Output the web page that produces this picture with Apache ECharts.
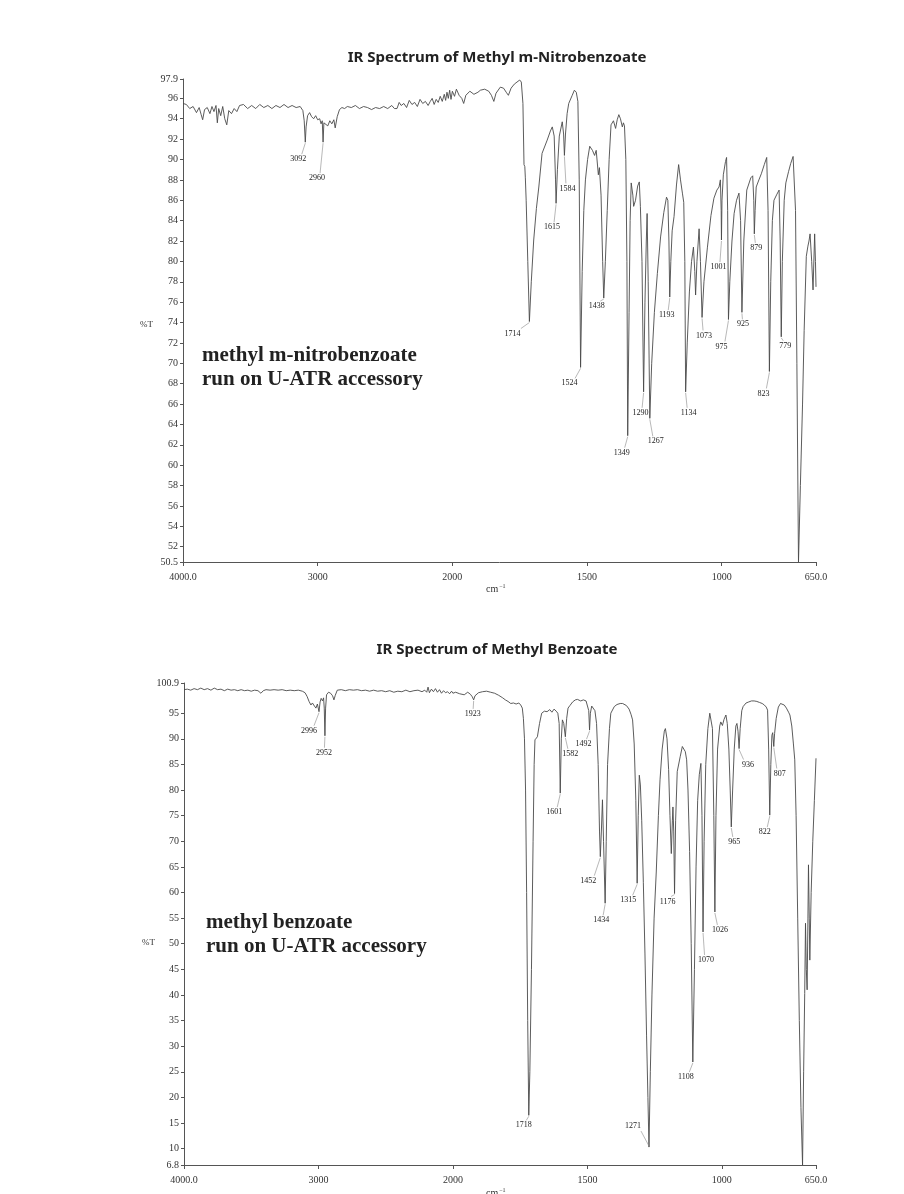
<!DOCTYPE html>
<html>
<head>
<meta charset="utf-8">
<title>IR Spectra</title>
<style>
html,body{margin:0;padding:0;background:#fff;}
#main{width:904px;height:1194px;}
</style>
<script src="https://cdn.jsdelivr.net/npm/echarts@6/dist/echarts.min.js"></script>
</head>
<body>
<div id="main"></div>
<script>
// methyl m-nitrobenzoate: [wavenumber cm-1, %T]
var nitroSpectrum = [
  [4000,95.5],[3975,95.4],[3950,95.0],[3925,95.2],[3900,94.6],[3880,95.1],[3865,94.4],[3854,93.9],[3840,94.9],[3820,95.1],
  [3800,94.5],[3785,95.2],[3770,94.7],[3755,95.3],[3745,93.6],[3735,95.0],[3720,94.3],[3705,95.2],[3690,94.0],[3675,93.4],
  [3660,94.8],[3640,94.5],[3620,95.0],[3600,94.7],[3580,95.3],[3551,95.4],[3520,95.0],[3490,95.3],[3460,95.0],[3430,95.4],
  [3400,95.1],[3370,95.3],[3340,95.0],[3310,95.3],[3280,95.1],[3250,95.4],[3220,95.1],[3190,95.3],[3160,95.1],[3130,95.2],
  [3110,94.8],[3100,93.8],[3092,91.7],[3086,93.2],[3075,94.3],[3060,94.6],[3045,94.2],[3030,94.0],[3015,94.3],[3000,93.9],
  [2985,94.0],[2975,93.5],[2966,93.8],[2960,91.7],[2954,93.6],[2940,93.7],[2925,93.3],[2910,93.8],[2895,93.5],[2880,93.9],
  [2870,93.1],[2855,94.2],[2838,94.9],[2820,95.1],[2800,95.0],[2780,95.2],[2750,95.1],[2720,95.3],[2690,95.0],[2659,95.2],
  [2630,95.1],[2600,94.9],[2570,95.1],[2540,95.0],[2510,95.2],[2480,95.0],[2450,95.3],[2430,95.0],[2411,95.0],[2395,95.6],
  [2380,95.3],[2360,95.5],[2340,95.1],[2320,95.8],[2300,95.4],[2280,95.6],[2260,95.2],[2240,95.9],[2220,95.5],[2200,95.7],
  [2180,95.3],[2164,95.7],[2150,96.0],[2135,95.4],[2120,95.9],[2105,95.6],[2090,96.2],[2075,95.7],[2060,96.4],[2050,95.8],
  [2040,96.6],[2030,96.0],[2020,96.8],[2010,95.9],[2000,96.7],[1992,96.2],[1985,96.9],[1975,96.3],[1965,96.0],[1958,95.5],
  [1950,96.3],[1935,96.7],[1920,96.4],[1905,96.6],[1896,96.8],[1880,96.9],[1865,96.7],[1855,96.3],[1846,95.7],[1838,96.5],
  [1822,97.1],[1810,97.0],[1800,96.6],[1792,96.3],[1782,97.0],[1770,97.4],[1760,97.6],[1750,97.8],[1744,97.6],[1738,95.5],
  [1734,89.5],[1731,89.3],[1729,88.2],[1726,86.0],[1720,80.0],[1714,74.1],[1707,78.0],[1698,82.1],[1688,85.2],[1679,87.3],
  [1667,90.6],[1648,91.9],[1636,92.8],[1629,93.2],[1622,92.3],[1617,88.0],[1615,85.7],[1610,89.0],[1603,92.3],[1592,93.7],
  [1587,92.5],[1584,90.4],[1580,92.5],[1574,94.5],[1568,95.5],[1555,96.3],[1547,96.8],[1540,96.6],[1534,95.7],[1529,88.0],
  [1524,69.6],[1518,79.0],[1512,85.0],[1506,88.0],[1498,90.0],[1490,91.3],[1480,90.9],[1472,90.4],[1466,90.9],[1462,90.8],
  [1458,88.5],[1454,89.2],[1448,86.5],[1442,80.0],[1438,76.4],[1432,80.0],[1425,85.0],[1418,90.0],[1411,93.4],[1402,93.8],
  [1394,93.05],[1388,93.9],[1382,94.4],[1376,94.0],[1369,93.2],[1365,93.6],[1361,93.3],[1356,90.0],[1352,80.0],[1349,62.9],
  [1344,75.0],[1340,84.0],[1336,87.7],[1330,86.5],[1327,85.4],[1320,86.0],[1312,87.4],[1306,87.8],[1302,85.4],[1296,80.0],
  [1290,67.2],[1285,76.0],[1280,82.0],[1277,84.7],[1273,78.0],[1267,64.6],[1260,70.0],[1250,75.0],[1239,78.8],[1227,82.4],
  [1215,84.8],[1205,86.3],[1200,86.0],[1196,82.0],[1193,76.5],[1189,80.0],[1184,83.0],[1177,84.4],[1168,87.5],[1160,89.5],
  [1153,88.0],[1146,86.7],[1141,85.8],[1137,80.0],[1134,67.2],[1128,72.0],[1120,77.0],[1112,80.0],[1105,81.4],[1100,79.0],
  [1097,76.7],[1092,80.0],[1084,83.2],[1079,80.0],[1073,74.5],[1066,78.0],[1053,81.4],[1040,84.5],[1029,86.2],[1018,87.0],
  [1010,87.3],[1005,88.0],[1002,85.0],[1001,82.1],[999,86.0],[994,88.5],[986,89.8],[982,90.2],[978,85.0],[975,74.3],
  [970,78.0],[962,82.0],[954,84.7],[945,86.0],[936,86.7],[930,84.0],[925,75.0],[918,82.0],[907,87.0],[892,88.2],
  [885,88.4],[881,86.0],[879,82.7],[876,85.0],[872,87.3],[862,88.0],[853,88.6],[842,89.5],[833,90.2],[828,85.0],
  [823,69.2],[818,78.0],[812,84.0],[806,86.0],[795,86.6],[787,87.0],[783,82.0],[779,72.6],[775,80.0],[768,86.0],
  [762,87.7],[752,88.8],[744,89.6],[735,90.3],[731,90.4],[726,85.0],[721,70.0],[715,50.5],[708,58.0],[700,66.0],
  [694,73.2],[686,80.5],[680,81.5],[676,82.0],[672,82.7],[666,80.0],[661,77.2],[655,82.7],[652,80.0],[650,77.5]
];

// methyl benzoate: [wavenumber cm-1, %T]
var benzoateSpectrum = [
  [4000,99.6],[3975,99.7],[3950,99.5],[3925,99.8],[3900,99.6],[3875,99.9],[3850,99.6],[3825,99.8],[3800,99.5],[3775,99.9],
  [3750,99.6],[3725,99.7],[3700,99.4],[3675,99.7],[3650,99.5],[3625,99.6],[3600,99.4],[3575,99.6],[3550,99.4],[3525,99.5],
  [3500,99.3],[3475,99.5],[3450,99.4],[3428,98.9],[3410,99.4],[3390,99.6],[3360,99.5],[3330,99.6],[3300,99.5],[3270,99.6],
  [3240,99.4],[3210,99.5],[3180,99.4],[3150,99.5],[3120,99.3],[3100,99.0],[3085,98.3],[3070,97.3],[3056,96.6],[3045,97.0],
  [3030,96.4],[3019,96.0],[3008,96.8],[2996,95.3],[2988,97.2],[2980,97.9],[2970,97.4],[2962,98.0],[2957,96.0],[2952,90.6],
  [2947,96.0],[2940,98.6],[2925,99.1],[2910,98.9],[2895,98.4],[2885,97.6],[2875,98.5],[2860,99.5],[2830,99.6],[2800,99.4],
  [2770,99.6],[2740,99.5],[2710,99.6],[2680,99.4],[2650,99.5],[2620,99.3],[2590,99.5],[2560,99.3],[2530,99.4],[2500,99.2],
  [2470,99.4],[2440,99.1],[2410,99.3],[2380,99.2],[2350,99.5],[2320,99.2],[2290,99.4],[2260,99.5],[2230,99.2],[2210,99.5],
  [2195,99.1],[2185,100.1],[2175,99.0],[2160,99.7],[2145,99.2],[2130,99.8],[2115,99.1],[2100,99.6],[2085,98.9],[2070,99.4],
  [2055,99.0],[2040,99.2],[2025,98.8],[2010,99.3],[2000,98.9],[1990,99.1],[1975,98.8],[1958,98.6],[1945,99.1],[1935,98.7],
  [1928,98.2],[1923,97.6],[1918,98.4],[1905,99.0],[1890,99.2],[1875,99.3],[1860,99.1],[1845,98.9],[1830,98.5],[1815,98.0],
  [1805,97.6],[1795,97.3],[1785,96.9],[1775,97.0],[1765,96.8],[1755,97.0],[1748,96.6],[1742,96.0],[1738,94.0],[1734,90.0],
  [1730,80.0],[1726,60.0],[1722,35.0],[1718,16.5],[1714,25.0],[1708,45.0],[1702,70.0],[1698,85.0],[1695,89.8],[1686,90.4],
  [1678,93.0],[1670,95.0],[1660,95.4],[1650,95.3],[1640,95.7],[1632,95.2],[1624,95.8],[1616,95.4],[1610,95.0],[1605,93.0],
  [1601,79.4],[1597,90.0],[1593,93.7],[1588,93.0],[1582,90.4],[1577,94.0],[1572,96.0],[1565,96.5],[1555,97.2],[1545,97.6],
  [1537,97.7],[1525,97.4],[1515,97.6],[1505,97.4],[1500,97.2],[1495,95.5],[1492,91.7],[1489,95.0],[1484,96.4],[1478,96.5],
  [1472,95.5],[1466,93.0],[1460,85.0],[1455,72.0],[1452,67.0],[1448,72.0],[1444,78.1],[1440,70.0],[1434,57.9],[1430,70.0],
  [1425,85.0],[1418,92.0],[1413,95.0],[1400,96.3],[1390,96.7],[1378,96.9],[1369,96.9],[1355,96.5],[1345,95.8],[1338,94.8],
  [1332,93.7],[1326,89.0],[1320,78.0],[1315,61.8],[1311,75.0],[1307,82.9],[1303,81.0],[1298,74.0],[1292,62.0],[1286,48.0],
  [1280,32.0],[1275,20.0],[1271,10.3],[1266,25.0],[1260,40.0],[1252,55.0],[1244,64.0],[1236,75.0],[1230,82.0],[1222,88.0],
  [1214,91.5],[1210,92.0],[1204,90.0],[1198,84.0],[1193,75.0],[1188,67.6],[1184,74.0],[1182,76.7],[1179,72.0],[1176,59.8],
  [1172,74.0],[1166,83.6],[1155,86.5],[1147,88.5],[1141,88.8],[1136,87.5],[1131,85.9],[1126,80.0],[1120,68.0],[1114,50.0],
  [1108,26.9],[1102,45.0],[1096,65.0],[1090,78.0],[1084,83.0],[1078,85.2],[1074,75.0],[1070,52.3],[1066,70.0],[1060,85.0],
  [1052,92.0],[1045,95.0],[1040,95.3],[1035,92.0],[1030,75.0],[1026,56.2],[1022,75.0],[1016,88.0],[1008,92.5],[1004,93.3],
  [998,92.6],[992,93.8],[985,94.65],[980,93.0],[974,88.0],[969,80.0],[965,72.8],[960,80.0],[954,88.0],[948,92.5],
  [944,93.0],[940,91.5],[936,88.1],[932,92.0],[926,95.5],[921,96.3],[910,97.0],[900,97.2],[890,97.4],[880,97.4],
  [870,97.3],[860,97.1],[850,96.9],[842,96.6],[835,96.2],[830,95.6],[826,88.0],[822,75.1],[818,85.0],[814,90.7],
  [811,91.2],[807,88.5],[804,91.0],[798,94.0],[790,96.2],[782,96.9],[775,96.9],[768,96.6],[760,96.0],[752,95.2],
  [747,94.65],[740,92.5],[734,89.0],[729,85.9],[724,75.0],[718,55.0],[712,35.0],[706,18.0],[700,6.8],[696,25.0],
  [692,40.3],[689,54.0],[686,45.0],[683,41.0],[680,55.0],[678,65.4],[675,55.0],[673,46.8],[668,60.0],[662,70.0],
  [656,78.0],[650,86.2]
];

// labelled peaks
var nitroPeakWn = [3092,2960,1714,1615,1584,1524,1438,1349,1290,1267,1193,1134,1073,1001,975,925,879,823,779];
var nitroPeakT  = [91.7,91.7,74.1,85.7,90.4,69.6,76.4,62.9,67.2,64.6,76.5,67.2,74.5,82.1,74.3,75.0,82.7,69.2,72.6];
var benzPeakWn = [2996,2952,1923,1718,1601,1582,1492,1452,1434,1315,1271,1176,1108,1070,1026,965,936,822,807];
var benzPeakT  = [95.3,90.6,97.6,16.5,79.4,90.4,91.7,67.0,57.9,61.8,10.3,59.8,26.9,52.3,56.2,72.8,88.1,75.1,88.5];

// where each peak label sits relative to the peak tip (px)
var nitroLabelOff = [[-7,17],[-6,36],[-17,12],[-4,24],[3,33],[-11,16],[-7,8],[-6,17],[-3,21],[6,23],[-3,18],[3,21],[2,18],[-3,27],[-7,27],[1,12],[2,14],[-6,22],[4,9]];
var benzLabelOff = [[-10,19],[-1,17],[-1,14],[-5,10],[-6,19],[5,17],[-6,14],[-12,24],[-4,17],[-9,17],[-16,-21],[-7,8],[-7,15],[3,28],[5,18],[3,15],[9,16],[-5,17],[6,27]];

// axis ticks
var xTickWn = [4000,3000,2000,1500,1000,650];
var xTickText = ['4000.0','3000','2000','1500','1000','650.0'];
var nitroYTicks = [50.5,52,54,56,58,60,62,64,66,68,70,72,74,76,78,80,82,84,86,88,90,92,94,96,97.9];
var benzYTicks = [6.8,10,15,20,25,30,35,40,45,50,55,60,65,70,75,80,85,90,95,100.9];

// chart x: 4000-2000 at half scale, 2000-650 at full scale
function xpos(w) { return w >= 2000 ? (4000 - w) / 2 : 1000 + (2000 - w); }

var serif = '"Liberation Serif", "Times New Roman", serif';
var sans = '"Noto Sans", sans-serif';
var tickPos = xTickWn.map(xpos);

function xAxisFor(gi) {
  return {
    type: 'value', gridIndex: gi, min: 0, max: xpos(650),
    splitLine: { show: false },
    axisLine: { lineStyle: { color: '#555', width: 1 } },
    axisTick: { customValues: tickPos, length: 4, lineStyle: { color: '#555' } },
    axisLabel: {
      customValues: tickPos, margin: 10, color: '#333', fontFamily: serif, fontSize: 10,
      formatter: function (v) {
        for (var i = 0; i < tickPos.length; i++) if (Math.abs(tickPos[i] - v) < 0.01) return xTickText[i];
        return '';
      }
    }
  };
}
function yAxisFor(gi, ticks) {
  return {
    type: 'value', gridIndex: gi, min: ticks[0], max: ticks[ticks.length - 1],
    splitLine: { show: false },
    axisLine: { show: true, lineStyle: { color: '#555', width: 1 } },
    axisTick: { show: true, customValues: ticks, length: 3, lineStyle: { color: '#555' } },
    axisLabel: { customValues: ticks, margin: 5, color: '#333', fontFamily: serif, fontSize: 10,
      formatter: function (v) { return String(v); } }
  };
}
function specSeries(gi, spec) {
  return {
    type: 'line', xAxisIndex: gi, yAxisIndex: gi, showSymbol: false, silent: true,
    lineStyle: { color: '#4a4a4a', width: 0.9 },
    data: spec.map(function (p) { return [xpos(p[0]), p[1]]; })
  };
}
function peakLabels(gi, wns, ts, offs) {
  return {
    type: 'custom', xAxisIndex: gi, yAxisIndex: gi, silent: true, z: 5,
    data: wns.map(function (w, i) { return [xpos(w), ts[i]]; }),
    renderItem: function (params, api) {
      var p = api.coord([api.value(0), api.value(1)]);
      var o = offs[params.dataIndex];
      var lx = p[0] + o[0], ly = p[1] + o[1];
      var ey = o[1] >= 0 ? ly - 5 : ly + 5;
      var ex = lx - o[0] * 0.5;
      return {
        type: 'group',
        children: [
          { type: 'line', shape: { x1: p[0], y1: p[1] + (o[1] >= 0 ? 1 : -1), x2: ex, y2: ey },
            style: { stroke: '#888', lineWidth: 0.6 } },
          { type: 'text', x: lx, y: ly,
            style: { text: String(wns[params.dataIndex]), fill: '#222', font: '8px ' + serif,
              align: 'center', verticalAlign: 'middle' } }
        ]
      };
    }
  };
}

var cmRich = {
  a: { fontFamily: serif, fontSize: 10, fill: '#333' },
  b: { fontFamily: serif, fontSize: 6, fill: '#333', padding: [0, 0, 6, 1] }
};

var chart = echarts.init(document.getElementById('main'));
chart.setOption({
  animation: false,
  backgroundColor: '#fff',
  grid: [
    { left: 183, right: 88, top: 79, height: 483 },
    { left: 184, right: 88, top: 683, height: 482 }
  ],
  xAxis: [xAxisFor(0), xAxisFor(1)],
  yAxis: [yAxisFor(0, nitroYTicks), yAxisFor(1, benzYTicks)],
  series: [
    specSeries(0, nitroSpectrum),
    specSeries(1, benzoateSpectrum),
    peakLabels(0, nitroPeakWn, nitroPeakT, nitroLabelOff),
    peakLabels(1, benzPeakWn, benzPeakT, benzLabelOff)
  ],
  graphic: [
    { type: 'text', x: 497, y: 58, style: { text: 'IR Spectrum of Methyl m-Nitrobenzoate',
      font: 'bold 15px ' + sans, fill: '#222', align: 'center', verticalAlign: 'middle' } },
    { type: 'text', x: 497, y: 650, style: { text: 'IR Spectrum of Methyl Benzoate',
      font: 'bold 15px ' + sans, fill: '#222', align: 'center', verticalAlign: 'middle' } },
    { type: 'text', left: 140, top: 320, style: { text: '%T', font: '9px ' + serif, fill: '#333' } },
    { type: 'text', left: 142, top: 938, style: { text: '%T', font: '9px ' + serif, fill: '#333' } },
    { type: 'text', left: 486, top: 583, style: { text: '{a|cm}{b|−1}', rich: cmRich } },
    { type: 'text', left: 486, top: 1187, style: { text: '{a|cm}{b|−1}', rich: cmRich } },
    { type: 'text', left: 202, top: 344, style: { text: 'methyl m-nitrobenzoate\nrun on U-ATR accessory',
      font: 'bold 21px ' + serif, fill: '#222', lineHeight: 24 } },
    { type: 'text', left: 206, top: 911, style: { text: 'methyl benzoate\nrun on U-ATR accessory',
      font: 'bold 21px ' + serif, fill: '#222', lineHeight: 24 } }
  ]
});
</script>
</body>
</html>
